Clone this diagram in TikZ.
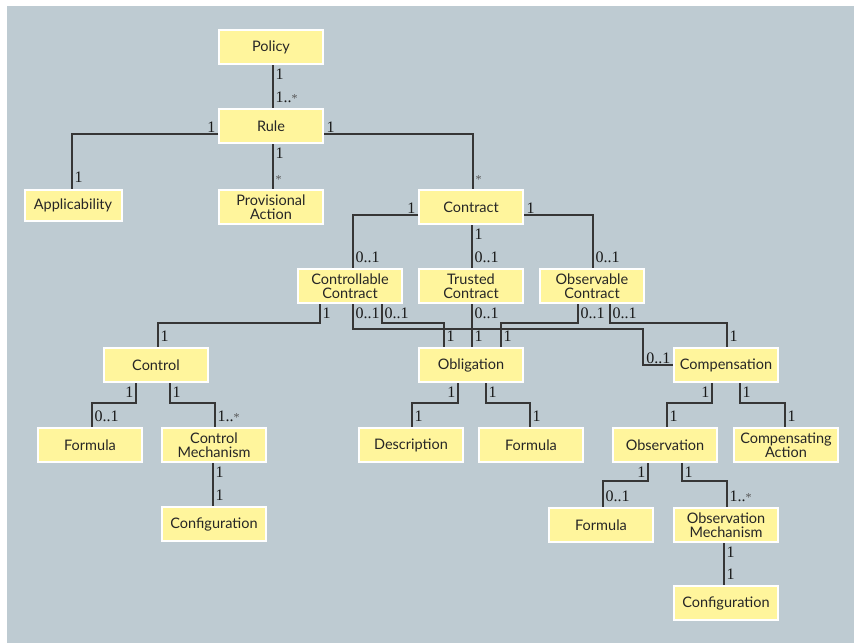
\documentclass[tikz,border=0pt]{standalone}
\usepackage{fontspec}
\usepackage{tikz}
\newfontfamily\boxfont{Lato}
\newfontfamily\mulfont{Liberation Serif}
\definecolor{panelgrey}{HTML}{BECBD2}
\definecolor{boxyellow}{HTML}{FFF59C}
\definecolor{linegrey}{HTML}{363636}
\definecolor{stargrey}{HTML}{555555}
\newcommand{\mstar}{{\color{stargrey}\fontsize{12}{12}\selectfont *}}

\tikzset{
  cls/.style={draw=white, line width=2pt, fill=boxyellow, text=black!85,
    minimum width=104pt, minimum height=34pt, inner sep=1pt, align=center,
    font=\boxfont\fontsize{14.5}{13.5}\selectfont},
  lnk/.style={draw=linegrey, line width=1.4pt},
  mul/.style={font=\mulfont\fontsize{16}{16}\selectfont, text=black!90, inner sep=1pt},
  mb/.style={mul, anchor=north west, yshift=-2pt, xshift=1pt},
  mbl/.style={mul, anchor=north east, yshift=-2pt, xshift=-1pt},
  ma/.style={mul, anchor=south west, yshift=4pt, xshift=1pt},
  mr/.style={mul, anchor=south west, xshift=1pt},
  ml/.style={mul, anchor=south east, xshift=-1pt},
}

\begin{document}
\begin{tikzpicture}[x=1pt, y=-1pt]
		\useasboundingbox (0,0) rectangle (854,643);
		\fill [color=panelgrey] (7,6) rectangle (854,643);
		% classes
		\node[cls] (pol) at (271,47) {Policy};
		\node[cls] (rul) at (271,126) {Rule};
		\node[cls, minimum width=97pt, minimum height=31pt] (app) at (73,205) {Applicability};
		\node[cls] (prv) at (271,207) {Provisional\\Action};
		\node[cls] (con) at (471,207) {Contract};
		\node[cls] (ccn) at (350,286) {Controllable\\Contract};
		\node[cls] (tcn) at (471,286) {Trusted\\Contract};
		\node[cls] (ocn) at (592,286) {Observable\\Contract};
		\node[cls] (ctl) at (156,365) {Control};
		\node[cls] (obl) at (471,365) {Obligation};
		\node[cls] (cmp) at (726,365) {Compensation};
		\node[cls] (frm1) at (90,445) {Formula};
		\node[cls] (cmc) at (214,445) {Control\\Mechanism};
		\node[cls] (dsc) at (411,445) {Description};
		\node[cls] (frm2) at (531,445) {Formula};
		\node[cls] (obs) at (665,445) {Observation};
		\node[cls] (cac) at (786,445) {Compensating\\Action};
		\node[cls] (cfg1) at (214,524) {Configuration};
		\node[cls] (frm3) at (601,525) {Formula};
		\node[cls] (omc) at (726,525) {Observation\\Mechanism};
		\node[cls] (cfg2) at (726,603) {Configuration};
		% policy and rule
		\draw [lnk] ([xshift=2]pol.south) node[mb] {1} -- ([xshift=2]rul.north) node[ma] {1..\mstar};
		\draw [lnk] ([yshift=-8]rul.west) node[ml] {1} -| ([xshift=-1]app.north) node[ma] {1};
		\draw [lnk] ([xshift=2]rul.south) node[mb] {1} -- ([xshift=2]prv.north) node[ma] {\mstar};
		\draw [lnk] ([yshift=-8]rul.east) node[mr] {1} -| ([xshift=2]con.north) node[ma] {\mstar};
		% contract kinds
		\draw [lnk] ([yshift=-8]con.west) node[ml] {1} -| ([xshift=3]ccn.north) node[ma] {0..1};
		\draw [lnk] ([xshift=1]con.south) node[mb] {1} -- ([xshift=1]tcn.north) node[ma] {0..1};
		\draw [lnk] ([yshift=-8]con.east) node[mr] {1} -| ([xshift=1]ocn.north) node[ma] {0..1};
		% contract parts
		\draw [lnk] ([xshift=-30]ccn.south) node[mb] {1} -- ++(0,19) -| ([xshift=2]ctl.north) node[ma] {1};
		\draw [lnk] ([xshift=3]ccn.south) node[mb] {0..1} -- ++(0,25) -| ([xshift=-30]cmp.west) -- (cmp.west) node[ml] {0..1};
		\draw [lnk] ([xshift=32]ccn.south) node[mb] {0..1} -- ++(0,19) -| ([xshift=-27]obl.north) node[ma] {1};
		\draw [lnk] ([xshift=1]tcn.south) node[mb] {0..1} -- ([xshift=1]obl.north) node[ma] {1};
		\draw [lnk] ([xshift=-14]ocn.south) node[mb] {0..1} -- ++(0,19) -| ([xshift=30]obl.north) node[ma] {1};
		\draw [lnk] ([xshift=18]ocn.south) node[mb] {0..1} -- ++(0,19) -| ([xshift=1]cmp.north) node[ma] {1};
		% control
		\draw [lnk] ([xshift=-20]ctl.south) node[mbl] {1} -- ++(0,20) -| ([xshift=2]frm1.north) node[ma] {0..1};
		\draw [lnk] ([xshift=14]ctl.south) node[mb] {1} -- ++(0,20) -| ([xshift=1]cmc.north) node[ma] {1..\mstar};
		\draw [lnk] ([xshift=-1]cmc.south) node[mb] {1} -- ([xshift=-1]cfg1.north) node[ma] {1};
		% obligation
		\draw [lnk] ([xshift=-13]obl.south) node[mbl] {1} -- ++(0,20) -| ([xshift=1]dsc.north) node[ma] {1};
		\draw [lnk] ([xshift=15]obl.south) node[mb] {1} -- ++(0,20) -| ([xshift=-1]frm2.north) node[ma] {1};
		% compensation
		\draw [lnk] ([xshift=-14]cmp.south) node[mbl] {1} -- ++(0,20) -| ([xshift=2]obs.north) node[ma] {1};
		\draw [lnk] ([xshift=14]cmp.south) node[mb] {1} -- ++(0,20) -| ([xshift=-1]cac.north) node[ma] {1};
		\draw [lnk] ([xshift=-17]obs.south) node[mbl] {1} -- ++(0,18) -| ([xshift=2]frm3.north) node[ma] {0..1};
		\draw [lnk] ([xshift=17]obs.south) node[mb] {1} -- ++(0,18) -| ([xshift=1]omc.north) node[ma] {1..\mstar};
		\draw [lnk] ([xshift=-2]omc.south) node[mb] {1} -- ([xshift=-2]cfg2.north) node[ma] {1};
	\end{tikzpicture}
\end{document}
